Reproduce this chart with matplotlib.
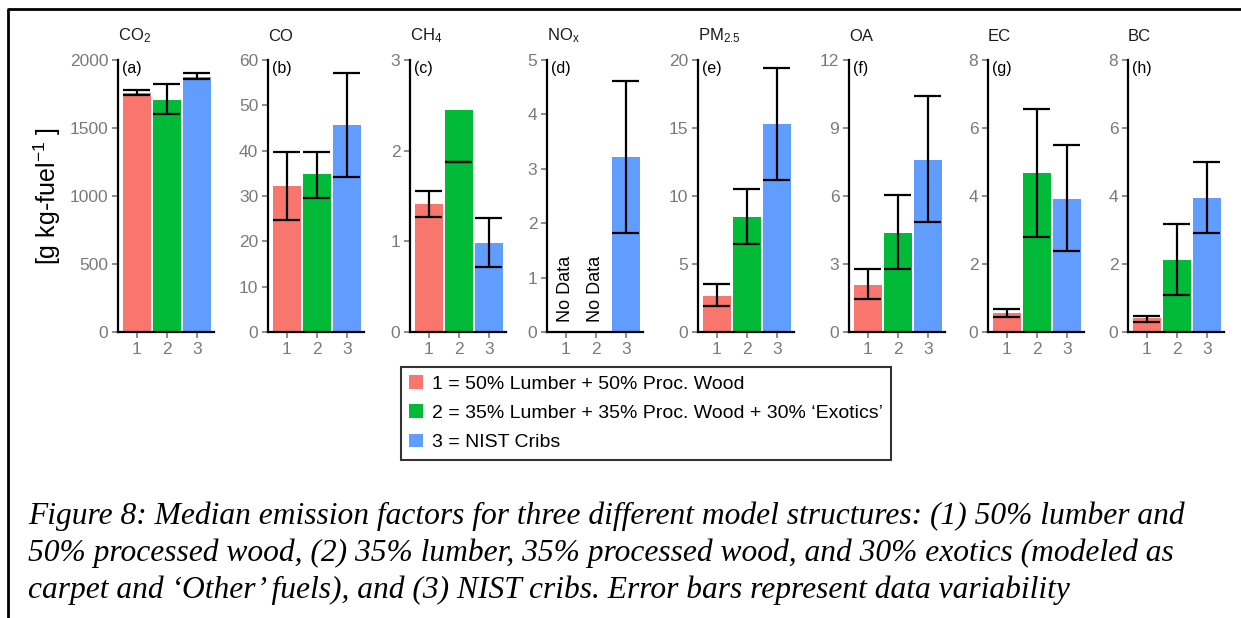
import numpy as np
import matplotlib
matplotlib.use("Agg")
from matplotlib import pyplot as plt
from matplotlib.patches import Patch
from matplotlib.lines import Line2D

plt.rcParams['font.family'] = 'Liberation Sans'
plt.rcParams['mathtext.fontset'] = 'custom'
plt.rcParams['mathtext.rm'] = 'Liberation Sans'
plt.rcParams['mathtext.it'] = 'Liberation Sans:italic'

# datos (mediana, limite inferior, limite superior)
species = ['CO$_2$', 'CO', 'CH$_4$', 'NO$_\\mathrm{x}$', 'PM$_{2.5}$', 'OA', 'EC', 'BC']
panels = ['(a)', '(b)', '(c)', '(d)', '(e)', '(f)', '(g)', '(h)']
structures = [1, 2, 3]
labels = ['1 = 50% Lumber + 50% Proc. Wood',
          '2 = 35% Lumber + 35% Proc. Wood + 30% \u2018Exotics\u2019',
          '3 = NIST Cribs']
colors = ['#F8766D', '#00BA38', '#619CFF']

nan = np.nan
medians = [[1760, 1705, 1875], [32.2, 34.8, 45.6], [1.41, 2.45, 0.98],
           [nan, nan, 3.22], [2.67, 8.45, 15.3], [2.07, 4.37, 7.6],
           [0.55, 4.68, 3.92], [0.40, 2.12, 3.95]]
lower = [[1745, 1605, 1858], [24.7, 29.6, 34.2], [1.27, 1.87, 0.72],
         [nan, nan, 1.82], [1.9, 6.45, 11.2], [1.44, 2.78, 4.87],
         [0.43, 2.78, 2.38], [0.30, 1.09, 2.90]]
upper = [[1778, 1820, 1905], [39.8, 39.8, 57.1], [1.56, 1.87, 1.26],
         [nan, nan, 4.62], [3.5, 10.5, 19.4], [2.78, 6.03, 10.4],
         [0.68, 6.55, 5.5], [0.47, 3.17, 5.0]]
ymax = [2000, 60, 3, 5, 20, 12, 8, 8]
ystep = [500, 10, 1, 1, 5, 3, 2, 2]

W, H = 1241, 618
fig = plt.figure(figsize=(W / 100, H / 100), dpi=100)

lefts = [118, 268, 410, 547, 698, 849, 988, 1128]
ax_w, top, bottom = 96, 60, 332
gray = '#7a7a7a'

for i in range(8):
  ax = fig.add_axes([lefts[i] / W, 1 - bottom / H, ax_w / W, (bottom - top) / H])
  med = np.array(medians[i], dtype=float)
  lo = np.array(lower[i], dtype=float)
  hi = np.array(upper[i], dtype=float)
  ok = ~np.isnan(med)
  x = np.array(structures)
  ax.bar(x[ok], med[ok], width=0.92, color=np.array(colors)[ok])
  ax.vlines(x[ok], lo[ok], hi[ok], color='black', lw=1.6)
  ax.hlines(lo[ok], x[ok] - 0.45, x[ok] + 0.45, color='black', lw=1.6)
  ax.hlines(hi[ok], x[ok] - 0.45, x[ok] + 0.45, color='black', lw=1.6)
  for j in np.where(~ok)[0]:
    ax.text(x[j], ymax[i] * 0.035, 'No Data', rotation=90, ha='center', va='bottom', fontsize=13)
  ax.set_xlim(0.37, 3.57)
  ax.set_ylim(0, ymax[i])
  ax.set_xticks(structures)
  ax.set_yticks(np.arange(0, ymax[i] + ystep[i] / 2, ystep[i]))
  ax.tick_params(colors=gray, labelsize=12.5, length=4, width=1.2, pad=3)
  for s in ['top', 'right']:
    ax.spines[s].set_visible(False)
  for s in ['left', 'bottom']:
    ax.spines[s].set_linewidth(1.6)
  ax.set_title(species[i], loc='left', fontsize=12, pad=14, color='#1a1a1a')
  ax.text(0.04, 0.995, panels[i], transform=ax.transAxes, ha='left', va='top', fontsize=11.5)
  if i == 0:
    ax.set_ylabel('[g kg-fuel$^{-1}$ ]', fontsize=18, labelpad=5)

handles = [Patch(facecolor=c) for c in colors]
leg = fig.legend(handles, labels, loc='upper left', bbox_to_anchor=(401 / W, 1 - 367 / H),
                 fontsize=14, frameon=True, fancybox=False, edgecolor='black',
                 handlelength=0.7, handleheight=0.7, handletextpad=0.45,
                 labelspacing=0.6, borderpad=0.42, borderaxespad=0)
leg.get_frame().set_linewidth(1.5)

caption = ['Figure 8: Median emission factors for three different model structures: (1) 50% lumber and',
           '50% processed wood, (2) 35% lumber, 35% processed wood, and 30% exotics (modeled as',
           'carpet and \u2018Other\u2019 fuels), and (3) NIST cribs. Error bars represent data variability']
for k, line in enumerate(caption):
  fig.text(28 / W, 1 - (516 + 37 * k) / H, line, family='Liberation Serif', style='italic',
           fontsize=22.7, ha='left', va='center')

# marco de la figura (solo arriba e izquierda)
fig.add_artist(Line2D([8 / W, 8 / W, 1], [0, 1 - 9 / H, 1 - 9 / H], color='black', lw=2))

plt.savefig('out.png', dpi=100)
